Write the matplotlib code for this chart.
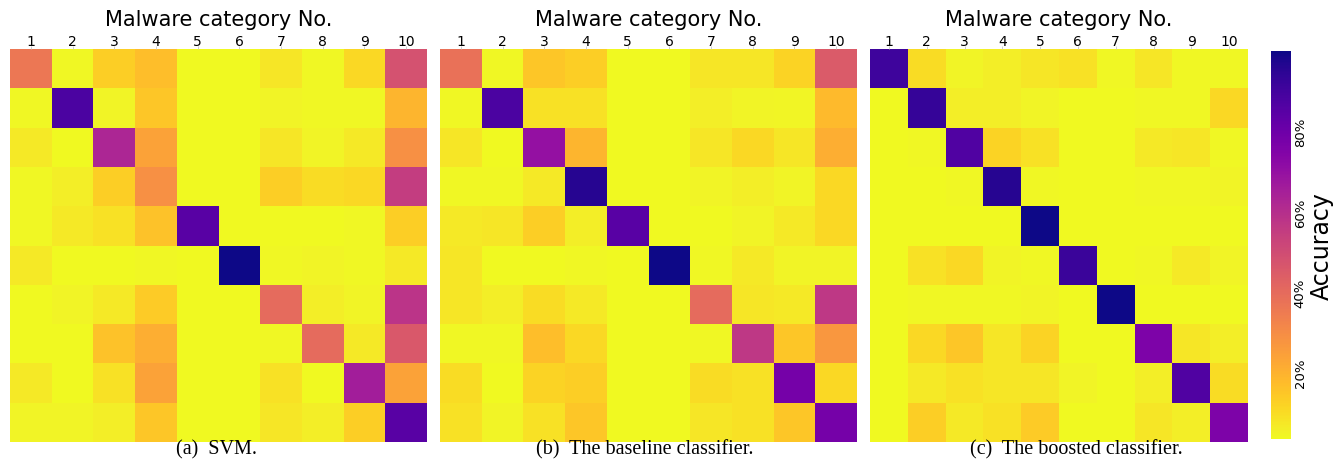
import matplotlib
matplotlib.use("Agg")
import matplotlib.pyplot as plt
from matplotlib.colors import Normalize
from matplotlib.cm import ScalarMappable
import numpy as np

categories = [str(i) for i in range(1, 11)]

# per-class accuracy matrices (rows: true class, cols: predicted class)
svm = np.array([
    [0.36, 0.04, 0.13, 0.17, 0.035, 0.035, 0.08, 0.04, 0.11, 0.48],
    [0.04, 0.88, 0.05, 0.15, 0.035, 0.035, 0.05, 0.04, 0.04, 0.19],
    [0.07, 0.035, 0.63, 0.24, 0.035, 0.035, 0.08, 0.05, 0.07, 0.29],
    [0.04, 0.06, 0.13, 0.29, 0.035, 0.035, 0.13, 0.10, 0.11, 0.55],
    [0.04, 0.07, 0.09, 0.16, 0.85, 0.035, 0.035, 0.035, 0.04, 0.13],
    [0.07, 0.035, 0.035, 0.04, 0.035, 1.00, 0.04, 0.05, 0.04, 0.07],
    [0.035, 0.05, 0.07, 0.14, 0.035, 0.035, 0.40, 0.06, 0.05, 0.58],
    [0.035, 0.035, 0.16, 0.21, 0.035, 0.035, 0.04, 0.40, 0.07, 0.46],
    [0.07, 0.035, 0.09, 0.24, 0.035, 0.035, 0.09, 0.035, 0.66, 0.24],
    [0.05, 0.05, 0.06, 0.15, 0.035, 0.035, 0.08, 0.06, 0.13, 0.85],
])

baseline = np.array([
    [0.38, 0.04, 0.15, 0.13, 0.035, 0.035, 0.08, 0.08, 0.12, 0.45],
    [0.04, 0.88, 0.09, 0.09, 0.035, 0.035, 0.06, 0.05, 0.045, 0.18],
    [0.08, 0.035, 0.70, 0.19, 0.035, 0.035, 0.08, 0.11, 0.08, 0.21],
    [0.04, 0.04, 0.07, 0.96, 0.035, 0.035, 0.05, 0.06, 0.05, 0.11],
    [0.07, 0.08, 0.13, 0.06, 0.85, 0.035, 0.035, 0.05, 0.07, 0.11],
    [0.08, 0.035, 0.035, 0.04, 0.035, 1.00, 0.04, 0.07, 0.05, 0.05],
    [0.08, 0.06, 0.10, 0.07, 0.035, 0.035, 0.40, 0.08, 0.07, 0.57],
    [0.04, 0.04, 0.17, 0.11, 0.035, 0.035, 0.04, 0.57, 0.15, 0.27],
    [0.10, 0.035, 0.12, 0.13, 0.035, 0.035, 0.10, 0.09, 0.78, 0.11],
    [0.09, 0.05, 0.09, 0.15, 0.035, 0.035, 0.08, 0.09, 0.15, 0.78],
])

boosted = np.array([
    [0.91, 0.10, 0.05, 0.06, 0.08, 0.09, 0.04, 0.08, 0.04, 0.04],
    [0.035, 0.93, 0.06, 0.06, 0.05, 0.035, 0.035, 0.04, 0.04, 0.11],
    [0.035, 0.04, 0.87, 0.12, 0.09, 0.035, 0.035, 0.07, 0.08, 0.04],
    [0.035, 0.035, 0.04, 0.96, 0.04, 0.035, 0.035, 0.04, 0.04, 0.05],
    [0.035, 0.035, 0.035, 0.035, 1.00, 0.035, 0.035, 0.035, 0.035, 0.035],
    [0.035, 0.09, 0.11, 0.05, 0.04, 0.92, 0.035, 0.04, 0.07, 0.05],
    [0.035, 0.04, 0.04, 0.04, 0.05, 0.035, 1.00, 0.035, 0.035, 0.035],
    [0.035, 0.11, 0.15, 0.08, 0.12, 0.035, 0.035, 0.76, 0.08, 0.06],
    [0.035, 0.07, 0.09, 0.08, 0.08, 0.05, 0.035, 0.06, 0.87, 0.10],
    [0.035, 0.13, 0.07, 0.09, 0.14, 0.035, 0.035, 0.08, 0.06, 0.76],
])

captions = ["(a)  SVM.", "(b)  The baseline classifier.", "(c)  The boosted classifier."]
cbar_ticks = [0.2, 0.4, 0.6, 0.8]

W, H = 1336, 460
fig = plt.figure(figsize=(W / 100, H / 100), dpi=100)
norm = Normalize(vmin=0.035, vmax=1.0)
cmap = plt.get_cmap("plasma_r")


def px(x, y, w, h):
    return [x / W, (H - y - h) / H, w / W, h / H]


panels = [(10, 417, 216), (440, 417, 645), (870, 378, 1076)]
for mat, cap, (left, width, cap_x) in zip([svm, baseline, boosted], captions, panels):
    ax = fig.add_axes(px(left, 50, width, 393))
    ax.pcolormesh(mat, cmap=cmap, norm=norm)
    ax.set_xlim(0, 10)
    ax.set_ylim(10, 0)
    ax.xaxis.tick_top()
    ax.set_xticks(np.arange(10) + 0.5)
    ax.set_xticklabels(categories, fontsize=10)
    ax.set_yticks([])
    ax.tick_params(axis="x", length=2, width=0.6, color="#c8c8c8", pad=-1)
    for s in ax.spines.values():
        s.set_visible(False)
    ax.set_title("Malware category No.", fontsize=15, pad=6)
    fig.text(cap_x / W, 1 - 450 / H, cap, ha="center", va="center",
             fontsize=14.5, family="Liberation Serif")

cax = fig.add_axes(px(1271, 52, 20, 388))
cb = fig.colorbar(ScalarMappable(norm=norm, cmap=cmap), cax=cax, ticks=cbar_ticks)
cb.outline.set_visible(False)
cb.ax.set_yticklabels([f"{int(t * 100)}%" for t in cbar_ticks], rotation=90,
                      va="center", fontsize=9.5)
cb.ax.tick_params(length=0, pad=2)
cb.set_label("Accuracy", fontsize=17, labelpad=2)

fig.savefig("out.png", dpi=100)
